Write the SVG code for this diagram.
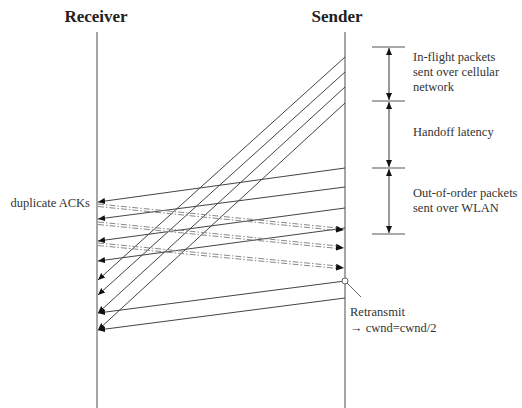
<svg xmlns="http://www.w3.org/2000/svg" width="522" height="408" viewBox="0 0 522 408">
<style>
.hdr{font-family:"Liberation Serif","Times New Roman",serif;font-weight:bold;font-size:17px;fill:#222}
.lbl{font-family:"Liberation Serif","Times New Roman",serif;font-size:12.5px;fill:#333}
.life{stroke:#888;stroke-width:1.5;fill:none}
.pkt{stroke:#444;stroke-width:1;fill:none;marker-end:url(#ah)}
.dup{stroke:#888;stroke-width:1;fill:none;stroke-dasharray:6,2,1.5,2}
.dupc{stroke:#000;stroke-opacity:0;stroke-width:1;fill:none;marker-end:url(#ad)}
.ann{stroke:#555;stroke-width:1.2;fill:none}
.span{stroke:#555;stroke-width:1.2;fill:none;marker-start:url(#as);marker-end:url(#ae)}
</style>
<defs>
<marker id="ah" markerUnits="userSpaceOnUse" markerWidth="8" markerHeight="8" refX="7" refY="4" orient="auto"><path d="M0,1 L7,4 L0,7 Z" fill="#111" stroke="none"/></marker>
<marker id="ad" markerUnits="userSpaceOnUse" markerWidth="9" markerHeight="9" refX="8" refY="4.5" orient="auto"><path d="M0,1 L8,4.5 L0,8 Z" fill="#111" stroke="none"/></marker>
<marker id="ae" markerUnits="userSpaceOnUse" markerWidth="8" markerHeight="8" refX="7" refY="4" orient="auto"><path d="M0,1 L7,4 L0,7 Z" fill="#111" stroke="none"/></marker>
<marker id="as" markerUnits="userSpaceOnUse" markerWidth="8" markerHeight="8" refX="0" refY="4" orient="auto"><path d="M7,1 L0,4 L7,7 Z" fill="#111" stroke="none"/></marker>
</defs>
<g id="receiver">
<text class="hdr" x="96" y="22" text-anchor="middle">Receiver</text>
<line class="life" x1="97" y1="32" x2="97" y2="408"/>
</g>
<g id="sender">
<text class="hdr" x="337" y="22" text-anchor="middle">Sender</text>
<line class="life" x1="345" y1="32" x2="345" y2="408"/>
</g>
<g id="connectors">
<line class="pkt" x1="345" y1="57" x2="98" y2="280"/>
<line class="pkt" x1="345" y1="72" x2="98" y2="295"/>
<line class="pkt" x1="345" y1="87" x2="98" y2="313"/>
<line class="pkt" x1="345" y1="103" x2="98" y2="330"/>
<line class="pkt" x1="345" y1="168" x2="98" y2="202"/>
<line class="pkt" x1="345" y1="187" x2="98" y2="219"/>
<line class="pkt" x1="345" y1="208" x2="98" y2="241"/>
<line class="pkt" x1="345" y1="228" x2="98" y2="261"/>
<line class="pkt" x1="345" y1="281" x2="98" y2="313"/>
<line class="pkt" x1="345" y1="298" x2="98" y2="330"/>
<g id="dup-acks">
<line class="dup" x1="98" y1="204" x2="338" y2="228"/>
<line class="dup" x1="98" y1="206.5" x2="338" y2="230.5"/>
<line class="dupc" x1="98" y1="205" x2="344" y2="230"/>
<line class="dup" x1="98" y1="222" x2="338" y2="246"/>
<line class="dup" x1="98" y1="224.5" x2="338" y2="248.5"/>
<line class="dupc" x1="98" y1="223" x2="344" y2="248"/>
<line class="dup" x1="98" y1="243" x2="338" y2="266"/>
<line class="dup" x1="98" y1="245.5" x2="338" y2="268.5"/>
<line class="dupc" x1="98" y1="244" x2="344" y2="268"/>
</g>
</g>
<g id="duplicate-acks-label">
<text class="lbl" x="90" y="207" text-anchor="end" font-size="13">duplicate ACKs</text>
</g>
<g id="annotation">
<line class="ann" x1="372" y1="47" x2="405" y2="47"/>
<line class="ann" x1="372" y1="101" x2="405" y2="101"/>
<line class="ann" x1="372" y1="168" x2="405" y2="168"/>
<line class="ann" x1="372" y1="234" x2="405" y2="234"/>
<line class="span" x1="389" y1="48" x2="389" y2="100"/>
<line class="span" x1="389" y1="102" x2="389" y2="167"/>
<line class="span" x1="389" y1="169" x2="389" y2="233"/>
<text class="lbl" x="413" y="61">In-flight packets</text>
<text class="lbl" x="413" y="76">sent over cellular</text>
<text class="lbl" x="413" y="91">network</text>
<text class="lbl" x="413" y="136">Handoff latency</text>
<text class="lbl" x="413" y="197">Out-of-order packets</text>
<text class="lbl" x="413" y="212">sent over WLAN</text>
</g>
<g id="retransmit">
<circle cx="345" cy="281" r="3" fill="#fff" stroke="#666" stroke-width="1"/>
<line x1="347" y1="283" x2="361" y2="297" stroke="#666" stroke-width="1"/>
<text class="lbl" x="350" y="316">Retransmit</text>
<text class="lbl" x="350" y="332">→ cwnd=cwnd/2</text>
</g>
</svg>
